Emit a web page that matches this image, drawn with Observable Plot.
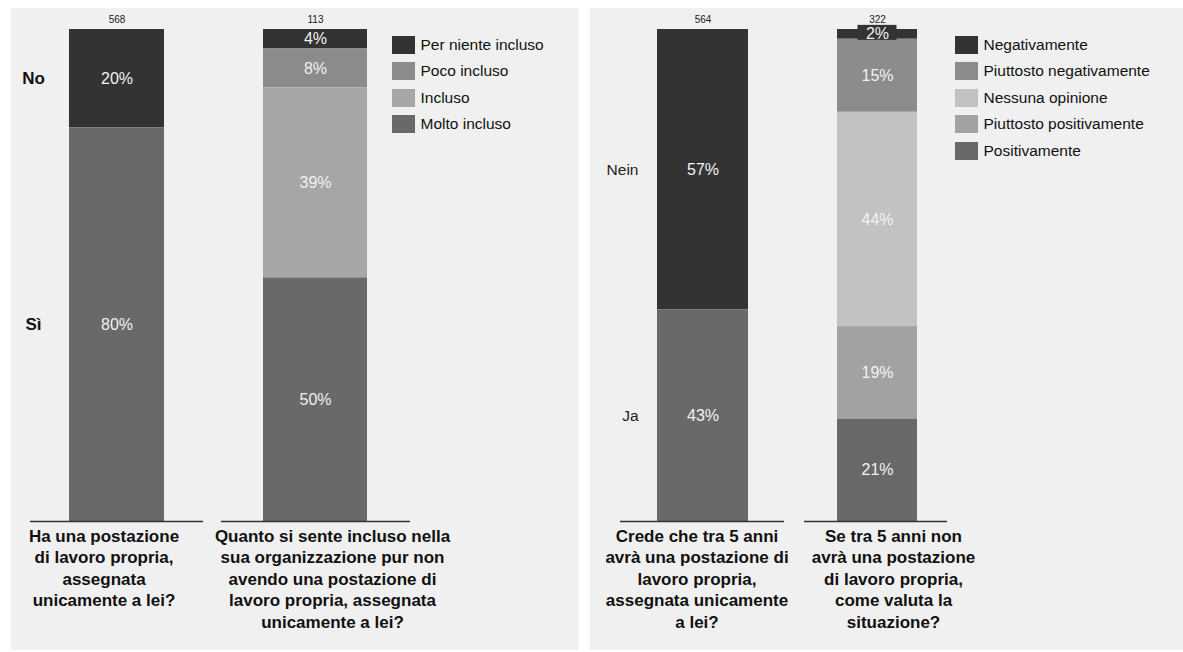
<!DOCTYPE html>
<html>
<head>
<meta charset="utf-8">
<script src="https://cdn.jsdelivr.net/npm/d3@7"></script>
<script src="https://cdn.jsdelivr.net/npm/@observablehq/plot@0.6"></script>
<style>
  html, body { margin: 0; padding: 0; background: #ffffff; }
  #root { position: relative; width: 1183px; height: 652px; overflow: hidden; font-family: "Liberation Sans", Arial, sans-serif; }
  .panel { position: absolute; background: #f0f0f0; }
  .plot { position: absolute; top: 0; }
  .legend { position: absolute; font-size: 15.5px; color: #111; }
  .legend .row { display: flex; align-items: center; height: 26.5px; }
  .legend .sw { width: 22.5px; height: 18px; margin-right: 6px; flex: none; }
</style>
</head>
<body>
<div id="root">
  <div class="panel" style="left:11px; top:8px; width:568px; height:642px;"></div>
  <div class="panel" style="left:590px; top:8px; width:593px; height:642px;"></div>
</div>
<script>
// ---------- data ----------
const questions = [
  "Ha una postazione\ndi lavoro propria,\nassegnata\nunicamente a lei?",
  "Quanto si sente incluso nella\nsua organizzazione pur non\navendo una postazione di\nlavoro propria, assegnata\nunicamente a lei?",
  "Crede che tra 5 anni\navrà una postazione di\nlavoro propria,\nassegnata unicamente\na lei?",
  "Se tra 5 anni non\navrà una postazione\ndi lavoro propria,\ncome valuta la\nsituazione?"
];
const counts = [568, 113, 564, 322];

const q1Categories = ["No", "Sì"];
const q1Values = [20, 80];

const q2Categories = ["Per niente incluso", "Poco incluso", "Incluso", "Molto incluso"];
const q2Values = [4, 8, 39, 50];

const q3Categories = ["Nein", "Ja"];
const q3Values = [57, 43];

const q4Categories = ["Negativamente", "Piuttosto negativamente", "Nessuna opinione", "Piuttosto positivamente", "Positivamente"];
const q4Values = [2, 15, 44, 19, 21];

// ---------- styles ----------
const palette = {
  "No": "#333333", "Sì": "#696969",
  "Per niente incluso": "#333333", "Poco incluso": "#8b8b8b", "Incluso": "#a6a6a6", "Molto incluso": "#696969",
  "Nein": "#333333", "Ja": "#696969",
  "Negativamente": "#333333", "Piuttosto negativamente": "#8c8c8c", "Nessuna opinione": "#c2c2c2",
  "Piuttosto positivamente": "#a2a2a2", "Positivamente": "#686868"
};
const font = "Liberation Sans, Arial, sans-serif";

function rows(qi, cats, vals) {
  return cats.map((c, i) => ({q: questions[qi], cat: c, v: vals[i], order: i}));
}
// stacking order: listed top-to-bottom, so the last category sits at the bottom
function stackOpts(extra) {
  return Plot.stackY({x: "q", y: "v", z: "cat", order: (d) => -d.order, offset: "normalize", ...extra});
}
function midOf(cats, vals, k) {
  const total = d3.sum(vals);
  let below = 0;
  for (let i = cats.length - 1; i > k; i--) below += vals[i];
  return (below + vals[k] / 2) / total;
}

function panel(opts) {
  const {qIdx, data, range, paddingInner, barInsets, lineInsets, textDx, width, catLabel, boxLabel} = opts;
  const qs = qIdx.map((i) => questions[i]);
  const allCats = Object.keys(palette);
  const marks = [];
  qIdx.forEach((qi, j) => {
    const d = data.filter((r) => r.q === questions[qi]);
    marks.push(Plot.barY(d, stackOpts({fill: "cat", insetLeft: barInsets[j], insetRight: barInsets[j]})));
    marks.push(Plot.tickY([questions[qi]], {x: (q) => q, y: () => 0, stroke: "#333", strokeWidth: 1.3,
      insetLeft: lineInsets[j][0], insetRight: lineInsets[j][1]}));
    marks.push(Plot.text([questions[qi]], {x: (q) => q, frameAnchor: "bottom", lineAnchor: "top", dy: 5, dx: textDx[j],
      text: (q) => q, fontSize: 17, fontWeight: "bold", fill: "#111", lineHeight: 1.265, fontFamily: font}));
    marks.push(Plot.text([questions[qi]], {x: (q) => q, frameAnchor: "top", lineAnchor: "middle", dy: -10,
      text: () => String(counts[qi]), fontSize: 10, fill: "#222", fontFamily: font}));
  });
  // small-segment label box
  if (boxLabel) {
    const {qi, cats, vals, k, inset} = boxLabel;
    const m = midOf(cats, vals, k);
    marks.push(Plot.barY([{q: questions[qi]}], {x: "q", y1: () => m, y2: () => m, fill: "#333333",
      insetLeft: inset, insetRight: inset, insetTop: -9, insetBottom: -6}));
  }
  // percentage labels
  marks.push(Plot.text(data, stackOpts({text: (d) => `${d.v}%`, fill: "#f2f2f2", fontSize: 16, fontFamily: font})));
  // category labels left of the first bar
  marks.push(Plot.text(data.filter((r) => r.q === questions[qIdx[0]]),
    stackOpts({text: "cat", fontFamily: font, ...catLabel})));
  return Plot.plot({
    width, height: 652,
    marginTop: 29, marginBottom: 131, marginLeft: 0, marginRight: 0,
    x: {domain: qs, range, paddingInner, paddingOuter: 0, round: false, axis: null},
    y: {domain: [0, 1], axis: null},
    color: {domain: allCats, range: allCats.map((c) => palette[c])},
    style: {background: "transparent", fontFamily: font, overflow: "visible"},
    marks
  });
}

const leftData = [...rows(0, q1Categories, q1Values), ...rows(1, q2Categories, q2Values)];
const rightData = [...rows(2, q3Categories, q3Values), ...rows(3, q4Categories, q4Values)];

const left = panel({
  qIdx: [0, 1], data: leftData, width: 569,
  range: [54.5, 357], paddingInner: 0.476,
  barInsets: [4.5, 0],
  lineInsets: [[-34.5, -34.5], [-42, -43]],
  textDx: [-13, 17],
  catLabel: {dx: -83.5, fontSize: 17, fontWeight: "bold", fill: "#111", textAnchor: "middle"}
});
const right = panel({
  qIdx: [2, 3], data: rightData, width: 593,
  range: [67, 332.5], paddingInner: 0.4785,
  barInsets: [0, 5.5],
  lineInsets: [[-37, -36], [-27.5, -24.5]],
  textDx: [-6, 16],
  catLabel: {dx: -64.5, fontSize: 15.5, fill: "#222", textAnchor: "end"},
  boxLabel: {qi: 3, cats: q4Categories, vals: q4Values, k: 0, inset: 26}
});

const root = document.getElementById("root");
left.classList.add("plot"); left.style.left = "10px";
right.classList.add("plot"); right.style.left = "590px";
root.appendChild(left);
root.appendChild(right);

function legend(cats, x, y) {
  const div = document.createElement("div");
  div.className = "legend";
  div.style.left = x + "px";
  div.style.top = y + "px";
  for (const c of cats) {
    const row = document.createElement("div");
    row.className = "row";
    const sw = document.createElement("div");
    sw.className = "sw";
    sw.style.background = palette[c];
    const t = document.createElement("span");
    t.textContent = c;
    row.appendChild(sw); row.appendChild(t);
    div.appendChild(row);
  }
  root.appendChild(div);
}
legend(q2Categories, 392, 31.5);
legend(q4Categories, 955, 31.5);
</script>
</body>
</html>
